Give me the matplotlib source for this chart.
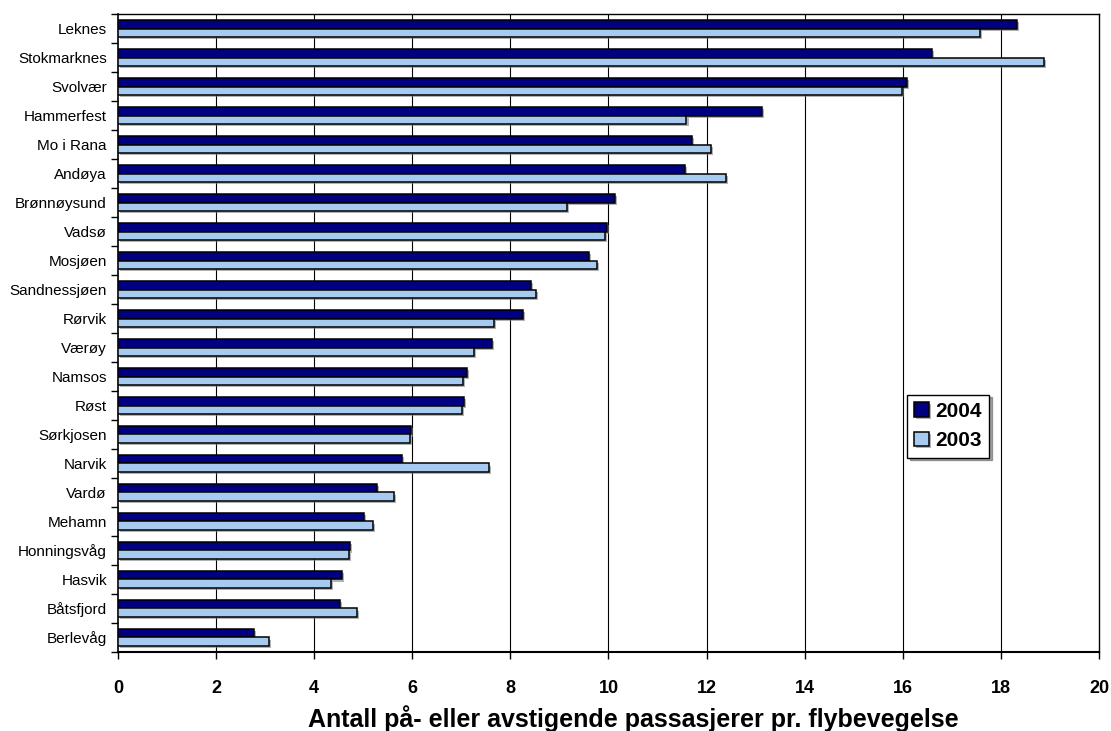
import matplotlib.pyplot as plt
import matplotlib.patheffects as pe
import numpy as np

# --- Data: passengers on/off per aircraft movement ---
airports = ['Leknes', 'Stokmarknes', 'Svolvær', 'Hammerfest', 'Mo i Rana', 'Andøya',
            'Brønnøysund', 'Vadsø', 'Mosjøen', 'Sandnessjøen', 'Rørvik', 'Værøy',
            'Namsos', 'Røst', 'Sørkjosen', 'Narvik', 'Vardø', 'Mehamn',
            'Honningsvåg', 'Hasvik', 'Båtsfjord', 'Berlevåg']
values_2004 = [18.33, 16.59, 16.08, 13.13, 11.71, 11.55,
               10.13, 9.97, 9.61, 8.41, 8.26, 7.62,
               7.11, 7.05, 5.98, 5.78, 5.28, 5.02,
               4.73, 4.56, 4.52, 2.77]
values_2003 = [17.58, 18.87, 15.98, 11.59, 12.09, 12.39,
               9.16, 9.93, 9.77, 8.53, 7.66, 7.25,
               7.03, 7.02, 5.95, 7.57, 5.63, 5.20,
               4.70, 4.35, 4.88, 3.08]
x_ticks = [0, 2, 4, 6, 8, 10, 12, 14, 16, 18, 20]

DARK = '#000080'
LIGHT = '#A6CAF0'
FONT = 'Liberation Sans'

plt.rcParams['font.family'] = [FONT, 'DejaVu Sans']

fig = plt.figure(figsize=(11.11, 7.31), dpi=100)
ax = fig.add_axes([0.1062, 0.1081, 0.8830, 0.8727])

y = np.arange(len(airports))
h = 0.29
shadow = [pe.SimplePatchShadow(offset=(1.5, -1.5), shadow_rgbFace='#808080', alpha=0.6), pe.Normal()]

b1 = ax.barh(y - h / 2, values_2004, height=h, color=DARK, edgecolor='black',
             linewidth=1.1, label='2004', zorder=3)
b2 = ax.barh(y + h / 2, values_2003, height=h, color=LIGHT, edgecolor='black',
             linewidth=1.1, label='2003', zorder=3)
for bar in list(b1) + list(b2):
    bar.set_path_effects(shadow)

ax.set_xlim(0, 20)
ax.set_ylim(len(airports) - 0.5, -0.5)

# vertical gridlines
for xv in x_ticks[1:-1]:
    ax.axvline(xv, color='black', linewidth=0.8, zorder=1)

ax.set_xticks(x_ticks)
ax.set_xticklabels([str(v) for v in x_ticks], fontsize=13, fontweight='bold')
ax.tick_params(axis='x', direction='out', length=5, width=1, pad=15)

ax.set_yticks(y)
ax.set_yticklabels(airports, fontsize=11)
ax.tick_params(axis='y', which='major', length=0, pad=8)
ax.set_yticks(np.arange(-0.5, len(airports) + 0.5, 1), minor=True)
ax.tick_params(axis='y', which='minor', direction='out', length=5, width=1)

for side in ['top', 'right']:
    ax.spines[side].set_linewidth(1.0)
ax.spines['left'].set_linewidth(1.2)
ax.spines['bottom'].set_linewidth(1.5)

ax.set_xlabel('Antall på- eller avstigende passasjerer pr. flybevegelse',
              fontsize=18, fontweight='bold', va='baseline')
ax.xaxis.set_label_coords(0.5255, -0.1176)

leg = ax.legend(loc='center', bbox_to_anchor=(0.846, 0.354), frameon=True,
                fancybox=False, shadow=True, framealpha=1, edgecolor='black',
                prop={'family': FONT, 'weight': 'bold', 'size': 15},
                handlelength=0.7, handleheight=0.7, handletextpad=0.3,
                labelspacing=0.5, borderpad=0.35, borderaxespad=0)
leg.get_frame().set_linewidth(1.0)

fig.savefig('out.png', dpi=100)
